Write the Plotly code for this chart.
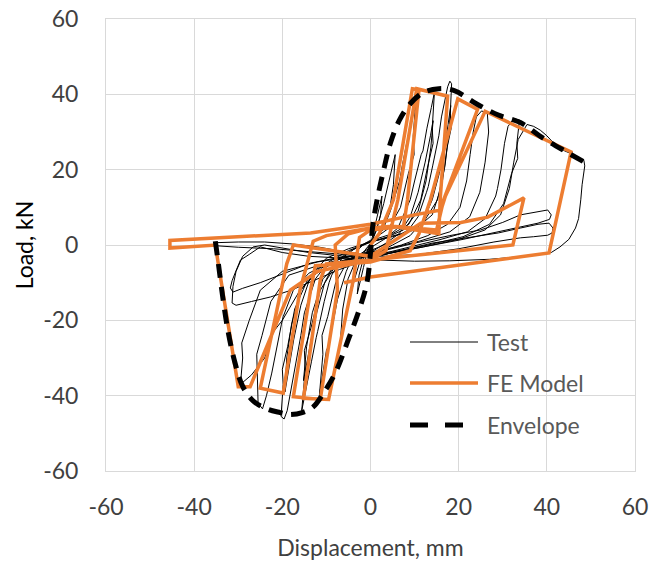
import plotly.graph_objects as go

# ---------------- data ----------------
x_ticks = [-60, -40, -20, 0, 20, 40, 60]
y_ticks = [-60, -40, -20, 0, 20, 40, 60]
x_tick_text = ["-60", "-40", "-20", "0", "20", "40", "60"]
y_tick_text = ["-60", "-40", "-20", "0", "20", "40", "60"]

# Test hysteresis (hand-read, cycle by cycle)
test_x = [
    0, 0.6, 1.3, 2.0, 2.6, 2.3, 1.4, 0.3, -0.8, -1.6, -2.4, -3.0, -2.6, -1.6, -0.5,
    0.5, 1.8, 3.0, 4.1, 5.0, 5.6, 5.2, 4.3, 2.6, 0.8, -1.0, -2.3, -3.6, -4.9, -6.0, -6.8, -6.3, -5.1, -3.1, -1.0,
    1.0, 2.8, 4.5, 6.0, 6.6, 7.2, 8.2, 8.7, 9.1, 9.8, 10.2, 9.7, 9.9, 8.6, 6.8, 4.2, 1.5, -1.5, -3.8, -5.5, -7.0,
    -7.5, -8.4, -9.6, -10.0, -10.6, -11.6, -10.8, -11.0, -9.7, -7.9, -5.3, -2.5,
    0.5, 3.5, 6.2, 8.3, 9.0, 10.0, 11.5, 11.9, 12.8, 13.8, 14.5, 14.0, 14.2, 13.0, 11.4, 8.7, 5.0, 1.0, -3.0, -6.5,
    -8.8, -9.4, -10.5, -12.0, -12.3, -13.4, -14.6, -15.6, -14.8, -15.0, -13.5, -11.4, -8.2, -4.5,
    0, 3.5, 6.5, 9.0, 10.8, 12.4, 13.6, 14.2, 13.7, 12.6, 10.8, 7.5, 3.5, -0.5, -4.5, -8.0, -10.4, -12.2, -13.6,
    -14.8, -15.2, -14.5, -13.2, -10.8, -7, -3,
    0, 4, 8, 10.8, 12.7, 13.1, 14.1, 15.2, 15.5, 16.1, 16.9, 17.5, 18.0, 18.4, 18.1, 18.3, 17.4, 16.2, 14.0, 10.0,
    5.0, 0, -5.0, -9.5, -12.5, -14.4, -15.0, -15.8, -17.0, -17.3, -18.1, -18.9, -19.6, -20.3, -19.8, -20.0, -18.8,
    -17.2, -14.2, -9.5, -4.0,
    1, 5, 9, 12, 14, 15.6, 16.8, 17.6, 18.2, 17.8, 16.9, 15.2, 12, 7, 1, -5, -10, -13.5, -15.8, -17.4, -18.6,
    -19.4, -19.0, -17.9, -15.8, -11.5, -6,
    1, 7, 13, 17.5, 20.3, 21.8, 22.0, 22.6, 23.3, 24.0, 25.2, 26.5, 26.8, 26.4, 26.0, 24.8, 22.5, 18, 11, 4, -3,
    -9, -14, -17.5, -19.8, -20.2, -21.2, -22.4, -23.6, -24.5, -25.5, -25.6, -25.8, -24.6, -22.6, -18.5, -12, -5,
    2, 9, 16, 22, 26, 28.4, 28.8, 29.6, 30.4, 31.2, 32.5, 33.8, 33.2, 33.4, 32.0, 30.2, 27, 21, 13, 5, -3, -11,
    -16, -20, -22, -24, -27, -29.5, -29.0, -29.2, -27.5, -25, -20, -12, -4,
    3, 12, 20, 26, 29.5, 31.5, 32.5, 33.5, 35.5, 37.0, 38.5, 40.0, 42.0, 44.0, 46.0, 48.4, 48.6, 48.0, 47.7, 47.2,
    46.5, 45.0, 43.0, 41.0, 35, 27, 18, 10, 2, -6, -14, -20, -25, -27.5, -29.5, -30.7, -31.4, -31.8, -31.2, -29,
    -25, -17.5, -13.6, -8, -2,
    3, 10, 18, 25, 30, 34, 37.5, 40.2, 41.0, 40.6, 38, 34, 28, 21, 12, 3, -6, -14, -20, -24, -26.6, -29, -30.5,
    -31.2, -31.4, -30.5, -27, -22.7, -18, -13.6, -7, -1,
    5, 14, 22, 29, 34, 38, 40.5, 41.4, 41.2, 40.2, 37, 34, 28, 20, 11, 3, -5, -12, -18, -24, -30, -35.5, -35.0,
    -30, -22, -14, -6, 0,
]
test_y = [
    0, 3, 7, 10.5, 13, 8, 4, 1, -2, -6, -10, -13, -8, -3.5, -1,
    1.5, 6, 11, 16.5, 21, 24, 16, 9, 4, 1.5, -1, -4, -9, -15, -21, -25, -17, -9, -3.5, -1.2,
    1.5, 4, 9, 15, 17, 21, 27, 28.5, 32, 35.5, 37, 29, 24, 19, 10, 4.5, 2.2, 0.3, -2.5, -7, -13,
    -14.5, -20, -27, -28, -33, -40, -29, -24, -19, -10, -4.5, -2.5,
    -0.5, 1.8, 4.5, 10, 12, 17, 24, 25, 31, 36.5, 40.5, 31, 27, 21, 12, 5.5, 3, 1.5, -0.5, -3.5,
    -8, -10, -15, -23, -24.5, -31, -38, -44, -33, -28, -22, -12, -6, -3.5,
    -2, 0.5, 3, 7.5, 14, 22, 29, 33, 26, 17, 9, 4, 2, 0.5, -1.5, -4.5, -10, -18, -26,
    -33, -36, -27, -18, -9, -4.5, -3,
    -1.5, 0.5, 3, 7.5, 14, 15.5, 21, 28, 29, 34, 39, 42, 43.5, 42.8, 35, 31, 26, 16, 8, 4,
    2.2, 0.8, -1.5, -4.5, -9, -16, -18, -24, -32, -33, -39, -44, -46.2, -45.5, -37, -33, -27,
    -17, -9, -5.5, -3.5,
    -2.5, 0, 2.5, 6.5, 12, 19, 26, 32, 37, 30, 21, 12, 6, 3, 1.2, -1, -3.5, -8, -16, -25, -33,
    -39, -30, -21, -12, -6, -4,
    -2, 0, 2.5, 5.5, 10, 17, 19, 24, 30, 34, 35.6, 35, 30, 26, 22, 14, 7.5, 3.5, 1, -1, -2.5,
    -4.5, -7.5, -12, -19, -21, -27, -34, -40, -43.5, -42, -33, -29, -24, -15, -8, -5.5, -4,
    -2.5, -0.5, 1.5, 3.5, 7, 13, 15, 20, 27, 31.5, 33.5, 33.2, 27, 23, 19, 11, 5.5, 2.2, 0, -1.8, -3, -6,
    -12, -20, -23, -30, -34.5, -37, -30, -26, -20, -12, -7, -4.5, -3,
    -2.5, -0.5, 1.5, 4, 8, 15, 22, 28, 32, 31.5, 30.5, 29, 26.5, 25, 24, 22.5, 21, 16, 12, 7,
    4.5, 1.5, -0.5, -2, -3, -3.8, -4.2, -4.3, -4.0, -3.5, -3, -2, -0.5, -2.5, -4, -7.4, -9.5, -11.4, -12.5, -11.5,
    -10, -6.6, -4.8, -3.5, -2.5,
    -1.5, 0.5, 2.5, 4, 6, 8, 8.8, 9.3, 8, 6.8, 5.8, 4.8, 3.2, 1.5, -0.5, -2.5, -3.0, -2.0, -0.8, 0, -0.5, -3, -7,
    -11, -15.4, -16, -15, -13.8, -12, -9.8, -6.5, -4,
    -2, 0.5, 2, 3.2, 4.5, 5.5, 5.8, 4.5, 3.2, 2.6, 2.2, 1.9, 0.8, -1, -2.5, -3, -2, -0.5, 0.3, 0.8, 0.8, 0.6, -0.2,
    -0.6, -1, -1.8, -2.5, -2.5,
]

# FE model hysteresis
fe_x = [
    0, 2.0, 5.2, 9.5, 11.0, 8.4, 7.5,
    0, -2.5, -3.9, -9.5, -15.2, -11.4, -10,
    0, 3.5, 6.2, 10.5, 17.5, 15.8, 15.5,
    5, 0, -5, -8, -7.5, -11.4, -17.5, -13.6, -12.5,
    0, 9, 11, 13.6, 19.8, 24.3, 16.6, 15,
    5, 0, -10, -13, -16, -19.8, -25, -19, -17.5,
    0, 11.4, 20.5, 26.6, 34.8, 32.3, 17.5, 0,
    -12, -18.2, -27.3, -30, -34.8, -35, -45.5, -45.5, -13.6, 0, 10, 16,
    17, 26, 45.5, 40.5, 0, -6,
]
fe_y = [
    0, 3, 12, 41.5, 41.2, 12, 5,
    4, 2, -9.3, -41, -40.7, -9.3, -5,
    -4, -1.5, 12, 41.5, 39.5, 12, 3,
    5, 4.5, 3, 0, -12, -41, -40.3, -12, -5.5,
    -4.5, -1.5, 3, 12, 38.8, 36, 12, 4,
    5, 4.5, 2.5, 1, -12, -39.3, -38, -5, 0,
    -3, 5.8, 6, 7.4, 12.5, 0, -1.8, -4,
    -7, -12, -37.6, -37.6, -3, 0, -0.8, 1.2, 3.2, 5.5, 8, 9.3,
    13, 35.5, 24.7, -2.1, -8.5, -10,
]

# Envelope
env_x = [-35.2, -34.5, -33.5, -32.3, -30.8, -29.0, -26.5, -23.5, -20.5, -18.5, -15.5, -13.0, -10.5, -8.0,
         -5.0, -2.5, -0.8, 0, 0.5, 1.5, 3.0, 4.5, 6.5, 9.0, 12.0, 15.5, 19.0, 24.0, 29.0, 34.0, 39.0, 44.0, 48.5]
env_y = [1.0, -5, -14, -23, -31, -37.5, -41.5, -43.5, -44.5, -45, -44.5, -43, -39, -34,
         -25, -17, -10, -2, 5, 12, 20, 27, 33, 37.5, 40.5, 41.5, 41, 37.5, 34.5, 32.5, 28.5, 25, 22]

series_names = ["Test", "FE Model", "Envelope"]

# ---------------- figure ----------------
FONT = "Lato"
ORANGE = "#ED7D31"

fig = go.Figure()
fig.add_trace(go.Scatter(x=test_x, y=test_y, mode="lines", name=series_names[0],
                         line=dict(color="#000000", width=1), showlegend=False))
fig.add_trace(go.Scatter(x=fe_x, y=fe_y, mode="lines", name=series_names[1],
                         line=dict(color=ORANGE, width=3.5), showlegend=False))
fig.add_trace(go.Scatter(x=env_x, y=env_y, mode="lines", name=series_names[2],
                         line=dict(color="#000000", width=5, dash="14px,9px", shape="spline"),
                         showlegend=False))

# manual legend (paper coordinates)
L, R, T, B = 106, 635, 19, 471
def px(xp):
    return (xp - L) / (R - L)
def py(yp):
    return (B - yp) / (B - T)

leg_rows = [342, 383, 425]
leg_ends = [478, 478, 464]
leg_styles = [dict(color="#000000", width=1),
              dict(color=ORANGE, width=3.5),
              dict(color="#000000", width=5, dash="18px,17px")]
for name, row, xe, st in zip(series_names, leg_rows, leg_ends, leg_styles):
    fig.add_shape(type="line", xref="paper", yref="paper",
                  x0=px(410), x1=px(xe), y0=py(row), y1=py(row), line=st)
    fig.add_annotation(xref="paper", yref="paper", x=px(485), y=py(row), text=name,
                       showarrow=False, xanchor="left", yanchor="middle",
                       font=dict(family=FONT, size=23, color="#595959"))

axis_common = dict(
    showgrid=True, gridcolor="#d9d9d9", gridwidth=1,
    zeroline=True, zerolinecolor="#d9d9d9", zerolinewidth=1,
    showline=True, linecolor="#d9d9d9", linewidth=1, mirror=True,
    ticks="", tickfont=dict(family=FONT, size=23, color="#404040"),
    range=[-60, 60], tickmode="array", automargin=False,
)
fig.update_xaxes(**axis_common, tickvals=x_ticks, ticktext=x_tick_text, ticklabelstandoff=15,
                 title=dict(text="Displacement, mm", font=dict(family=FONT, size=23, color="#404040"),
                            standoff=22))
fig.update_yaxes(**axis_common, tickvals=y_ticks, ticktext=y_tick_text, ticklabelstandoff=22,
                 title=dict(text="Load, kN", font=dict(family=FONT, size=23, color="#000000"),
                            standoff=3))

fig.update_layout(
    width=652, height=561,
    margin=dict(l=106, r=17, t=19, b=90),
    paper_bgcolor="white", plot_bgcolor="white",
    font=dict(family=FONT),
)

fig.write_html("out.html")
